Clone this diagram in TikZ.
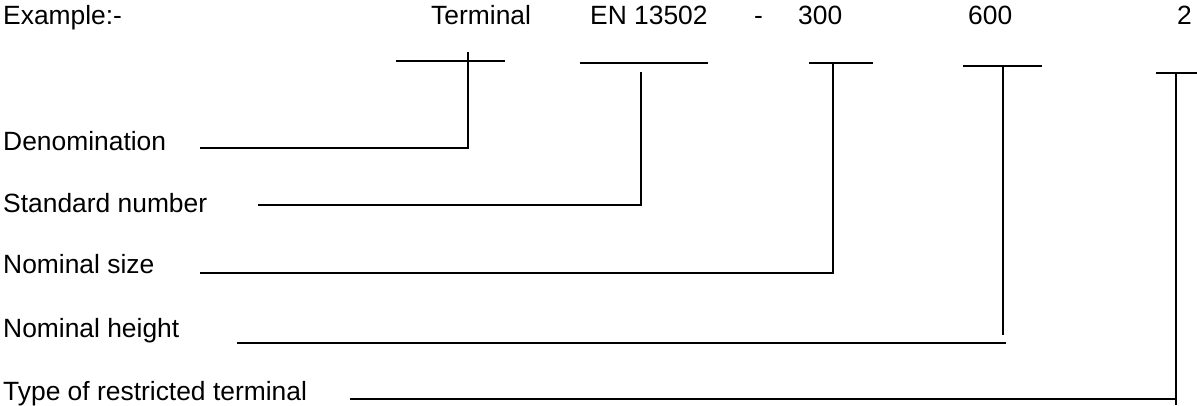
\documentclass[tikz,border=0pt]{standalone}
\usepackage{fontspec}
\setmainfont{Liberation Sans}
\begin{document}
\begin{tikzpicture}[x=1pt,y=-1pt,
  lbl/.style={anchor=base west,inner sep=0pt,font=\fontsize{26.4}{30}\selectfont},
  bar/.style={line width=2pt},
  thinbar/.style={line width=1.5pt},
  link/.style={line width=2pt},
  thinlink/.style={line width=1.5pt}]
\useasboundingbox[fill=white] (0,0) rectangle (1197,405);
% top row
\node[lbl] (ex) at (3,24) {Example:-};
\node[lbl] (t1) at (431,24) {Terminal};
\node[lbl] (t2) at (590,24) {EN 13502};
\node[lbl] (t3) at (754,24) {-};
\node[lbl] (t4) at (798,24) {300};
\node[lbl] (t5) at (968,24) {600};
\node[lbl] (t6) at (1177,24) {2};
% labels
\node[lbl] (l1) at (3,150) {Denomination};
\node[lbl] (l2) at (3,212) {Standard number};
\node[lbl] (l3) at (3,273) {Nominal size};
\node[lbl] (l4) at (3,337) {Nominal height};
\node[lbl] (l5) at (3,400) {Type of restricted terminal};
% bar coordinates
\coordinate (b1l) at (396,61);  \coordinate (b1r) at (505,61);
\coordinate (b2l) at (580,63);  \coordinate (b2r) at (708,63);
\coordinate (b3l) at (809,63);  \coordinate (b3r) at (873,63);
\coordinate (b4l) at (963,66);  \coordinate (b4r) at (1042,66);
\coordinate (b5l) at (1156,73); \coordinate (b5r) at (1197,73);
\draw[bar] (b1l) -- (b1r);
\draw[bar] (b2l) -- (b2r);
\draw[bar] (b3l) -- (b3r);
\draw[thinbar] (b4l) -- (b4r);
\draw[thinbar] (b5l) -- (b5r);
% connector coordinates
\coordinate (c1s) at (200,148); \coordinate (c1t) at (468,52);
\coordinate (c2s) at (258,205); \coordinate (c2t) at (641,72);
\coordinate (c3s) at (200,273); \coordinate (c3t) at (833,63);
\coordinate (c4s) at (237,343); \coordinate (c4e) at (1006,343);
\coordinate (c4b) at (1003,335); \coordinate (c4t) at (1003,66);
\coordinate (c5s) at (350,399); \coordinate (c5e) at (1176,399);
\coordinate (c5b) at (1176,405); \coordinate (c5t) at (1176,73);
\draw[link] (c1s) -| (c1t);
\draw[link] (c2s) -| (c2t);
\draw[link] (c3s) -| (c3t);
\draw[thinlink] (c4s) -- (c4e);
\draw[thinlink] (c4b) -- (c4t);
\draw[thinlink] (c5s) -- (c5e);
\draw[thinlink] (c5b) -- (c5t);
\end{tikzpicture}
\end{document}
